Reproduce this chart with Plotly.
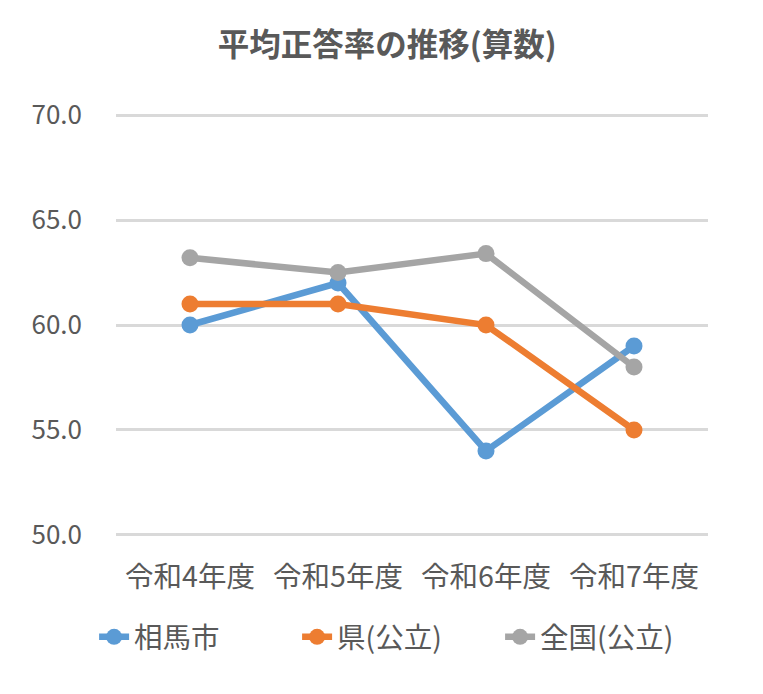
import plotly.graph_objects as go

categories = ["令和4年度", "令和5年度", "令和6年度", "令和7年度"]
soma = [60.0, 62.0, 54.0, 59.0]
ken = [61.0, 61.0, 60.0, 55.0]
zenkoku = [63.2, 62.5, 63.4, 58.0]
series_names = ["相馬市", "県(公立)", "全国(公立)"]
colors = ["#5B9BD5", "#ED7D31", "#A5A5A5"]
y_ticks = [50, 55, 60, 65, 70]

FONT = "Noto Sans CJK JP"
fig = go.Figure()
for name, vals, c in zip(series_names, [soma, ken, zenkoku], colors):
    fig.add_trace(go.Scatter(
        x=categories, y=vals, name=name, mode="lines+markers",
        line=dict(color=c, width=6.5),
        marker=dict(color=c, size=17),
    ))

fig.update_layout(
    width=763, height=694,
    paper_bgcolor="white", plot_bgcolor="white",
    margin=dict(l=108, r=63, t=106, b=166),
    font=dict(family=FONT, color="#595959", size=26),
    title=dict(text="<b>平均正答率の推移(算数)</b>", x=0.497, xanchor="center",
               y=0.947, yanchor="middle", font=dict(size=31.5, color="#595959", family=FONT)),
    xaxis=dict(type="category", range=[-0.5, 3.5], showgrid=False, showline=False,
               zeroline=False, ticks="", ticklabelstandoff=21,
               tickfont=dict(size=28.5, color="#595959")),
    yaxis=dict(range=[49.95, 70.05], tickvals=y_ticks, tickformat=".1f", showgrid=True,
               gridcolor="#D9D9D9", gridwidth=2.5, zeroline=False, showline=False,
               ticks="", ticklabelstandoff=33, tickfont=dict(size=26, color="#595959")),
    legend=dict(orientation="h", x=-0.037, xanchor="left", y=-0.24, yanchor="middle",
                font=dict(size=28.5, color="#595959"), entrywidth=158,
                traceorder="normal"),
    showlegend=True,
)
fig.write_html("out.html")
